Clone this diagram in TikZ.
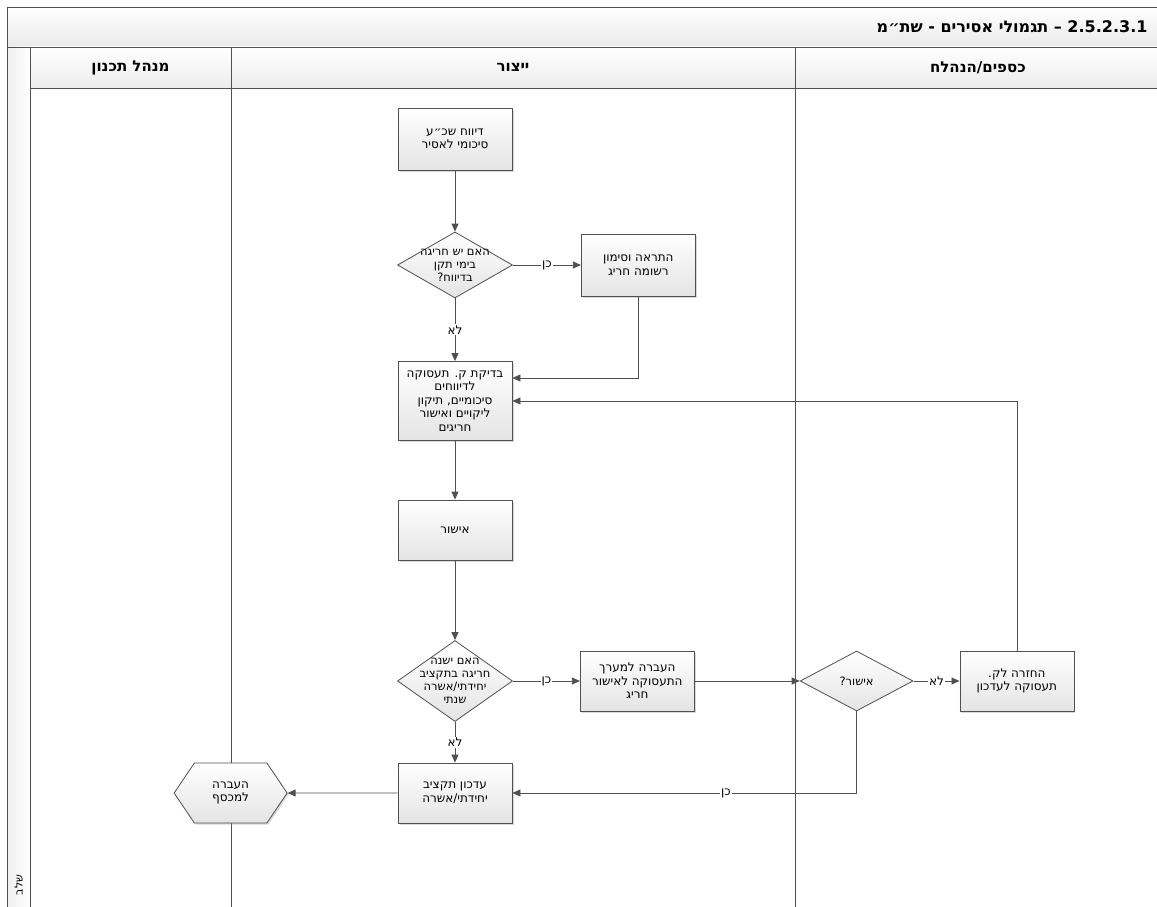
\documentclass[tikz,border=0pt]{standalone}
\usepackage{fontspec}
\setmainfont{DejaVu Sans}
\newfontfamily\hebfont[Script=Hebrew]{DejaVu Sans}
\TeXXeTstate=1
\usepackage{tikz}
\usetikzlibrary{arrows.meta, positioning, shapes.geometric, shapes.symbols, shadows}
\definecolor{lineg}{RGB}{80,80,80}
\definecolor{shadeg}{RGB}{228,228,228}

\begin{document}
\begin{tikzpicture}[
    x=1pt, y=-1pt,
    frame/.style={draw=lineg, line width=0.9pt},
    lanehead/.style={rectangle, frame, top color=white, bottom color=shadeg!70, font=\hebfont\bfseries\fontsize{15}{17}\selectfont, inner sep=0pt},
    box/.style={rectangle, draw=lineg, line width=0.8pt, top color=white, bottom color=shadeg, drop shadow={shadow xshift=1.5pt, shadow yshift=-1.5pt, opacity=.3}, minimum width=114, minimum height=60, align=center, font=\hebfont\fontsize{12}{13.5}\selectfont, inner sep=1pt},
    decision/.style={diamond, draw=lineg, line width=0.8pt, top color=white, bottom color=shadeg, minimum width=115, minimum height=66, inner sep=0pt},
    dtext/.style={align=center, font=\hebfont\fontsize{11.5}{13}\selectfont, inner sep=0pt},
    exitbox/.style={signal, signal to=west and east, signal pointer angle=112, draw=lineg, line width=0.8pt, top color=white, bottom color=shadeg, drop shadow={shadow xshift=1.5pt, shadow yshift=-1.5pt, opacity=.3}, minimum width=113, minimum height=60, align=center, font=\hebfont\fontsize{12}{13.5}\selectfont, inner sep=1pt},
    lbl/.style={fill=white, inner sep=1pt, font=\hebfont\fontsize{12}{13}\selectfont},
    arrow/.style={-{Triangle[length=8pt, width=7pt]}, draw=lineg, line width=0.8pt}
]
\useasboundingbox (0,0) rectangle (1157,907);
\clip (0,0) rectangle (1157,907);

% pool and lanes
\shade[top color=white, bottom color=shadeg!80] (7,7) rectangle (1165,47);
\shade[left color=shadeg!60, right color=white] (7,47) rectangle (30,915);
\node[lanehead, minimum width=201, minimum height=41] (lplan) at (130.5,67.5) {\beginR מנהל תכנון\endR};
\node[lanehead, minimum width=564, minimum height=41] (lprod) at (513,67.5) {\beginR ייצור\endR};
\node[lanehead, minimum width=370, minimum height=41, anchor=west] (lfin) at (795,67.5) {\hspace*{-5pt}\beginR כספים/הנהלח\endR};
\draw[frame] (7,7) rectangle (1165,915);
\draw[frame] (7,47) -- (1165,47);
\draw[frame] (30,47) -- (30,915);
\draw[frame] (231,88) -- (231,915);
\draw[frame] (795,88) -- (795,915);
\node[anchor=east, font=\hebfont\bfseries\fontsize{16}{18}\selectfont] (title) at (1151,27) {\beginR\beginL 2.5.2.3.1\endL{} – תגמולי אסירים - שת״מ\endR};
\node[rotate=90, font=\hebfont\fontsize{11}{12}\selectfont] (phase) at (18.5,885) {\beginR שלב\endR};

% flow
\node[box, minimum height=62] (report) at (455,139) {\beginR דיווח שכ״ע\endR\\\beginR סיכומי לאסיר\endR};
\node[decision, label={[dtext]center:{\beginR האם יש חריגה\endR\\\beginR בימי תקן\endR\\\beginR בדיווח?\endR}}] (chkdays) at (455,265) {};
\node[box, minimum height=62, right=68pt of chkdays] (alert) {\beginR התראה וסימון\endR\\\beginR רשומה חריג\endR};
\node[box, minimum height=79] (review) at (455,401) {\beginR בדיקת ק. תעסוקה\endR\\\beginR לדיווחים\endR\\\beginR סיכומיים, תיקון\endR\\\beginR ליקויים ואישור\endR\\\beginR חריגים\endR};
\node[box] (approve) at (455,530) {\beginR אישור\endR};
\node[decision, minimum height=81, label={[dtext]center:{\beginR האם ישנה\endR\\\beginR חריגה בתקציב\endR\\\beginR יחידתי/אשרה\endR\\\beginR שנתי\endR}}] (chkbudget) at (455,681) {};
\node[box, right=67pt of chkbudget] (transfer) {\beginR העברה למערך\endR\\\beginR התעסוקה לאישור\endR\\\beginR חריג\endR};
\node[decision, minimum width=113, minimum height=60, right=105pt of transfer, label={[dtext]center:{\beginR אישור?\endR}}] (finok) {};
\node[box, right=46pt of finok] (giveback) {\beginR החזרה לק.\endR\\\beginR תעסוקה לעדכון\endR};
\node[box] (update) at (455,793) {\beginR עדכון תקציב\endR\\\beginR יחידתי/אשרה\endR};
\node[exitbox, left=110pt of update] (tofin) {\beginR העברה\endR\\\beginR למכסף\endR};

\draw[arrow] (report) -- (chkdays);
\draw[arrow] (chkdays) -- node[lbl]{\beginR כן\endR} (alert);
\draw[arrow] (chkdays) -- node[lbl]{\beginR לא\endR} (review);
\draw[arrow] (alert) |- ([yshift=23pt]review.east);
\draw[arrow] (giveback) |- (review);
\draw[arrow] (review) -- (approve);
\draw[arrow] (approve) -- (chkbudget);
\draw[arrow] (chkbudget) -- node[lbl]{\beginR כן\endR} (transfer);
\draw[arrow] (chkbudget) -- node[lbl]{\beginR לא\endR} (update);
\draw[arrow] (transfer) -- (finok);
\draw[arrow] (finok) -- node[lbl]{\beginR לא\endR} (giveback);
\draw[arrow] (finok) |- node[lbl, pos=0.69]{\beginR כן\endR} (update);
\draw[arrow] (update) -- (tofin);
\end{tikzpicture}
\end{document}
